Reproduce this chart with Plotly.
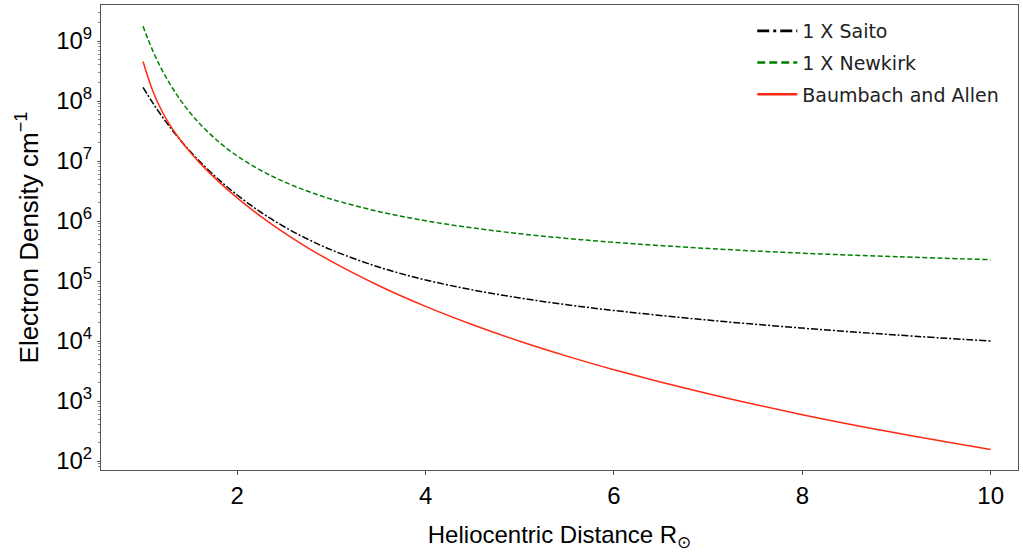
import plotly.graph_objects as go

# Heliocentric distance (solar radii)
r = [1.0, 1.1, 1.2, 1.3, 1.4, 1.5, 1.6, 1.8, 2.0, 2.25, 2.5, 2.75, 3.0, 3.5,
     4.0, 4.5, 5.0, 5.5, 6.0, 7.0, 8.0, 9.0, 10.0]

# Electron density values (cm^-3)
saito = [1.69e8, 9.48e7, 5.59e7, 3.44e7, 2.20e7, 1.456e7, 9.92e6, 4.96e6, 2.71e6,
         1.405e6, 8.02e5, 4.97e5, 3.30e5, 1.71e5, 1.043e5, 7.1e4, 5.22e4, 4.03e4,
         3.22e4, 2.23e4, 1.64e4, 1.26e4, 9.97e3]
newkirk = [1.755e9, 7.10e8, 3.34e8, 1.767e8, 1.023e8, 6.37e7, 4.21e7, 2.11e7, 1.214e7,
           6.99e6, 4.49e6, 3.13e6, 2.31e6, 1.441e6, 1.01e6, 7.66e5, 6.14e5, 5.13e5,
           4.41e5, 3.48e5, 2.91e5, 2.54e5, 2.27e5]
baumbach = [4.54e8, 1.526e8, 6.81e7, 3.66e7, 2.20e7, 1.406e7, 9.40e6, 4.58e6, 2.43e6,
            1.195e6, 6.35e5, 3.58e5, 2.13e5, 8.43e4, 3.78e4, 1.87e4, 9.92e3, 5.60e3,
            3.32e3, 1.32e3, 591, 292, 155]

series_names = ["1 X Saito", "1 X Newkirk", "Baumbach and Allen"]

ytick_vals = [1e2, 1e3, 1e4, 1e5, 1e6, 1e7, 1e8, 1e9]
ytick_text = ["10<sup>%d</sup>" % e for e in range(2, 10)]
xtick_vals = [2, 4, 6, 8, 10]

styles = [
    dict(color="black", dash="7px,2px,2px,2px"),
    dict(color="#008000", dash="5px,2.5px"),
    dict(color="#ff2a14", dash="solid"),
]

fig = go.Figure()
for name, vals, st in zip(series_names, [saito, newkirk, baumbach], styles):
    fig.add_trace(go.Scatter(x=r, y=vals, mode="lines", name=name, showlegend=False,
                             line=dict(color=st["color"], width=1.5, dash=st["dash"],
                                       shape="spline")))
# legend entries with thicker sample lines (as in the reference)
legend_dash = ["12px,4px,3px,4px", "8px,4px", "solid"]
for i, (name, st, d) in enumerate(zip(series_names, styles, legend_dash)):
    fig.add_trace(go.Scatter(x=[None], y=[None], mode="lines", name=name,
                             legendgroup="g%d" % i,
                             line=dict(color=st["color"], width=2.6, dash=d)))

font_main = "Liberation Sans, Arial, Helvetica"
axis_common = dict(showline=True, linecolor="#555555", linewidth=1, mirror=True,
                   showgrid=False, zeroline=False, ticks="outside", tickcolor="#555555",
                   automargin=False,
                   tickfont=dict(family=font_main, size=24, color="black"))

fig.update_xaxes(range=[0.554, 10.29], tickvals=xtick_vals, ticklen=4,
                 title=dict(text="Heliocentric Distance R<sub>⊙</sub>",
                            font=dict(family=font_main, size=24, color="black"),
                            standoff=18),
                 **axis_common)
fig.update_yaxes(type="log", range=[1.85, 9.6], tickvals=ytick_vals, ticktext=ytick_text,
                 ticklen=3,
                 minor=dict(ticks="outside", ticklen=2, tickcolor="#888888", dtick="D1"),
                 title=dict(text="Electron Density cm<sup>−1</sup>",
                            font=dict(family=font_main, size=26, color="black"),
                            standoff=10),
                 **axis_common)

fig.update_layout(
    width=1023, height=554,
    margin=dict(l=101, r=5, t=5, b=84),
    plot_bgcolor="white", paper_bgcolor="white",
    legend=dict(x=0.985, y=0.985, xanchor="right", yanchor="top",
                bgcolor="rgba(255,255,255,0)",
                font=dict(family="DejaVu Sans", size=19, color="#222222"),
                itemwidth=40, tracegroupgap=4),
)

fig.write_html(
    "out.html",
    config={"displayModeBar": False},
    post_script="document.body.style.margin='0';document.body.style.overflow='hidden';",
)
